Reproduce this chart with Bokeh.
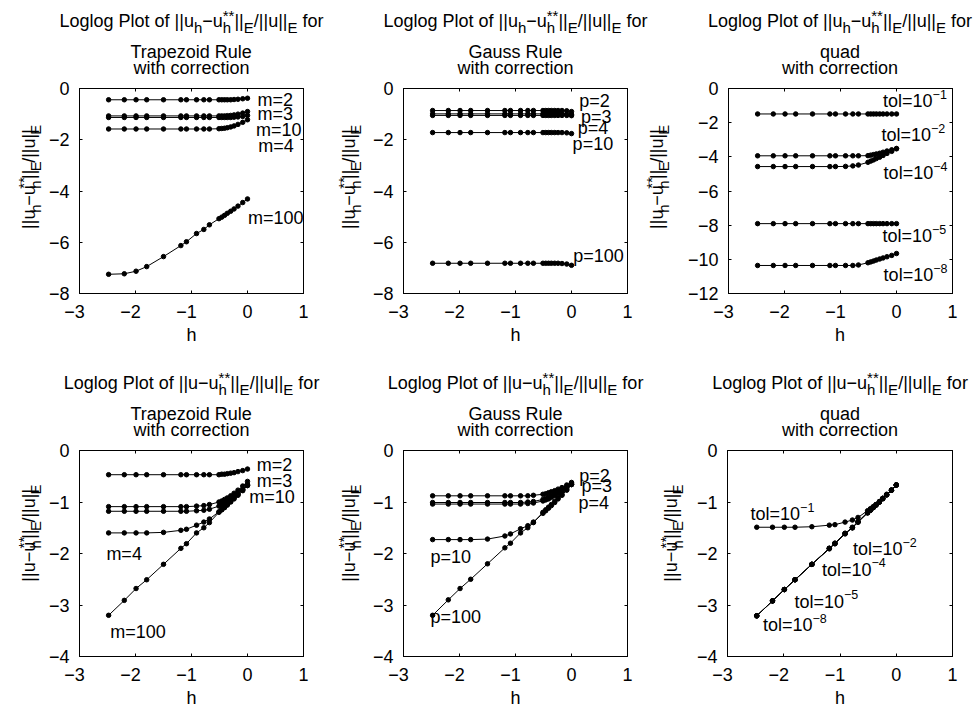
import math
from bokeh.plotting import figure
from bokeh.models import Range1d, FixedTicker, LinearAxis, CustomJSTickFormatter
from bokeh.layouts import column, row
from bokeh.core.properties import value
from bokeh.embed import file_html
from bokeh.resources import INLINE

# ---------------- data ----------------
log_h = [-2.48, -2.20, -1.99, -1.80, -1.50, -1.19, -1.09, -0.91, -0.78, -0.68,
         -0.51, -0.46, -0.41, -0.36, -0.30, -0.24, -0.17, -0.085, 0.0]

x_ticks = [-3, -2, -1, 0, 1]
y_ticks_top = [-8, -6, -4, -2, 0]
y_ticks_quad_top = [-12, -10, -8, -6, -4, -2, 0]
y_ticks_bottom = [-4, -3, -2, -1, 0]

# top row: ||u_h - u_h**||_E / ||u||_E
trap_top_m2 = [-0.44, -0.44, -0.44, -0.44, -0.44, -0.44, -0.44, -0.44, -0.44, -0.44,
               -0.44, -0.44, -0.44, -0.44, -0.44, -0.43, -0.42, -0.40, -0.38]
trap_top_m3 = [-1.07, -1.07, -1.07, -1.07, -1.07, -1.07, -1.07, -1.07, -1.07, -1.07,
               -1.07, -1.07, -1.07, -1.06, -1.05, -1.03, -1.00, -0.96, -0.90]
trap_top_m10 = [-1.13, -1.13, -1.13, -1.13, -1.13, -1.13, -1.13, -1.13, -1.13, -1.13,
                -1.13, -1.13, -1.13, -1.13, -1.13, -1.12, -1.11, -1.09, -1.05]
trap_top_m4 = [-1.58, -1.58, -1.58, -1.58, -1.58, -1.58, -1.58, -1.58, -1.58, -1.58,
               -1.57, -1.56, -1.55, -1.53, -1.50, -1.46, -1.40, -1.32, -1.22]
trap_top_m100 = [-7.25, -7.23, -7.13, -6.95, -6.56, -6.13, -5.98, -5.66, -5.50, -5.32,
                 -5.08, -5.02, -4.95, -4.87, -4.79, -4.70, -4.59, -4.45, -4.31]

gauss_top_p2 = [-0.86, -0.86, -0.86, -0.86, -0.86, -0.86, -0.86, -0.86, -0.86, -0.86,
                -0.86, -0.86, -0.86, -0.86, -0.86, -0.86, -0.86, -0.87, -0.90]
gauss_top_p3 = [-0.99, -0.99, -0.99, -0.99, -0.99, -0.99, -0.99, -0.99, -0.99, -0.99,
                -0.99, -0.99, -0.99, -0.99, -0.99, -0.99, -0.99, -1.00, -1.01]
gauss_top_p4 = [-1.05, -1.05, -1.05, -1.05, -1.05, -1.05, -1.05, -1.05, -1.05, -1.05,
                -1.05, -1.05, -1.05, -1.05, -1.05, -1.05, -1.05, -1.05, -1.06]
gauss_top_p10 = [-1.72, -1.72, -1.72, -1.72, -1.72, -1.72, -1.72, -1.72, -1.72, -1.72,
                 -1.72, -1.72, -1.72, -1.72, -1.72, -1.72, -1.72, -1.73, -1.76]
gauss_top_p100 = [-6.82, -6.82, -6.82, -6.82, -6.82, -6.82, -6.82, -6.82, -6.82, -6.82,
                  -6.82, -6.82, -6.82, -6.82, -6.82, -6.82, -6.83, -6.85, -6.90]

quad_top_t1 = [-1.49, -1.49, -1.49, -1.49, -1.49, -1.49, -1.49, -1.49, -1.49, -1.49,
               -1.49, -1.49, -1.49, -1.49, -1.49, -1.49, -1.49, -1.49, -1.49]
quad_top_t2 = [-3.94, -3.94, -3.94, -3.94, -3.94, -3.94, -3.94, -3.94, -3.94, -3.94,
               -3.93, -3.90, -3.87, -3.83, -3.79, -3.73, -3.66, -3.59, -3.51]
quad_top_t4 = [-4.57, -4.57, -4.57, -4.57, -4.57, -4.57, -4.57, -4.56, -4.53, -4.48,
               -4.32, -4.25, -4.18, -4.10, -4.02, -3.92, -3.80, -3.68, -3.53]
quad_top_t5 = [-7.91, -7.91, -7.91, -7.91, -7.91, -7.91, -7.91, -7.91, -7.91, -7.91,
               -7.91, -7.91, -7.91, -7.91, -7.91, -7.91, -7.91, -7.91, -7.91]
quad_top_t8 = [-10.36, -10.36, -10.36, -10.36, -10.36, -10.36, -10.36, -10.36, -10.36, -10.33,
               -10.20, -10.15, -10.10, -10.04, -9.98, -9.92, -9.85, -9.77, -9.66]

# bottom row: ||u - u_h**||_E / ||u||_E
trap_bot_m2 = [-0.47, -0.47, -0.47, -0.47, -0.47, -0.47, -0.47, -0.47, -0.47, -0.47,
               -0.47, -0.46, -0.46, -0.45, -0.44, -0.43, -0.41, -0.39, -0.36]
trap_bot_m3 = [-1.09, -1.09, -1.09, -1.09, -1.09, -1.09, -1.09, -1.08, -1.07, -1.05,
               -1.00, -0.98, -0.95, -0.92, -0.88, -0.83, -0.77, -0.69, -0.60]
trap_bot_m10 = [-1.18, -1.18, -1.18, -1.18, -1.18, -1.18, -1.18, -1.17, -1.16, -1.14,
                -1.08, -1.06, -1.03, -1.00, -0.96, -0.91, -0.84, -0.76, -0.66]
trap_bot_m4 = [-1.60, -1.60, -1.60, -1.60, -1.59, -1.55, -1.53, -1.45, -1.39, -1.33,
               -1.19, -1.15, -1.11, -1.06, -1.00, -0.94, -0.87, -0.78, -0.68]
trap_bot_m100 = [-3.20, -2.91, -2.68, -2.51, -2.21, -1.90, -1.81, -1.60, -1.50, -1.40,
                 -1.20, -1.15, -1.10, -1.05, -0.99, -0.92, -0.85, -0.76, -0.68]

gauss_bot_p2 = [-0.88, -0.88, -0.88, -0.88, -0.88, -0.88, -0.88, -0.88, -0.88, -0.87,
                -0.85, -0.84, -0.82, -0.80, -0.78, -0.75, -0.72, -0.67, -0.62]
gauss_bot_p3 = [-1.01, -1.01, -1.01, -1.01, -1.01, -1.01, -1.01, -1.01, -1.00, -0.99,
                -0.95, -0.93, -0.91, -0.88, -0.85, -0.81, -0.77, -0.71, -0.64]
gauss_bot_p4 = [-1.04, -1.04, -1.04, -1.04, -1.04, -1.04, -1.04, -1.04, -1.03, -1.02,
                -0.98, -0.96, -0.94, -0.91, -0.88, -0.84, -0.79, -0.73, -0.66]
gauss_bot_p10 = [-1.73, -1.73, -1.73, -1.73, -1.72, -1.66, -1.62, -1.52, -1.46, -1.39,
                 -1.22, -1.17, -1.12, -1.07, -1.01, -0.94, -0.87, -0.77, -0.66]
gauss_bot_p100 = [-3.20, -2.90, -2.68, -2.50, -2.20, -1.89, -1.80, -1.60, -1.50, -1.40,
                  -1.20, -1.15, -1.10, -1.05, -0.99, -0.92, -0.85, -0.76, -0.66]

quad_bot_t1 = [-1.49, -1.49, -1.49, -1.49, -1.48, -1.45, -1.44, -1.39, -1.35, -1.30,
               -1.17, -1.13, -1.09, -1.05, -1.00, -0.93, -0.86, -0.77, -0.67]
quad_bot_t2 = [-3.21, -2.92, -2.70, -2.51, -2.21, -1.90, -1.80, -1.61, -1.49, -1.38,
               -1.20, -1.15, -1.10, -1.05, -0.99, -0.93, -0.85, -0.77, -0.67]
quad_bot_t4 = [-3.21, -2.92, -2.70, -2.51, -2.21, -1.90, -1.80, -1.61, -1.50, -1.39,
               -1.21, -1.16, -1.11, -1.06, -1.00, -0.93, -0.86, -0.77, -0.67]
quad_bot_t5 = [-3.21, -2.92, -2.70, -2.51, -2.21, -1.90, -1.81, -1.61, -1.50, -1.39,
               -1.21, -1.16, -1.11, -1.06, -1.00, -0.93, -0.86, -0.77, -0.67]
quad_bot_t8 = [-3.21, -2.92, -2.70, -2.51, -2.21, -1.91, -1.81, -1.62, -1.50, -1.39,
               -1.21, -1.16, -1.11, -1.06, -1.00, -0.94, -0.86, -0.77, -0.67]

method_names = ["Trapezoid Rule", "Gauss Rule", "quad"]
x_label = "h"

# ---------------- styling ----------------
FONT = "Liberation Sans"
FS = 18.0      # main text size (px)
SS = 15.0      # script size in titles / axis labels (px)
LSS = 12.5     # script size in the in-plot labels (px)
SUB = 5.0      # subscript drop (px)
SUP = 7.0      # superscript raise (px)
MID = 0.35     # distance baseline -> "middle" anchor, in em

AW = {' ': 278, '|': 260, '/': 278, '*': 389, '=': 584, '\u2212': 584, '-': 333,
      'L': 556, 'P': 667, 'T': 611, 'R': 722, 'G': 778, 'E': 667,
      'a': 556, 'c': 500, 'd': 556, 'e': 556, 'f': 278, 'g': 556, 'h': 556, 'i': 222,
      'l': 222, 'n': 556, 'o': 556, 'p': 556, 'q': 556, 'r': 333, 's': 500, 't': 278,
      'u': 556, 'w': 722, 'z': 500}


def tw(s, size):
    return sum(AW.get(c, 556) for c in s) * size / 1000.0


def rich(s, segs, x, y, rotate=False):
    """Composed text (with sub/superscripts) drawn as text glyphs; (x, y) = centre of baseline."""
    widths = []
    for seg in segs:
        if seg[0] == "n":
            widths.append(tw(seg[1], FS))
        else:
            widths.append(max(tw(seg[1] or "", SS), tw(seg[2] or "", SS)))
    pos = -sum(widths) / 2.0
    groups = {}
    for seg, w in zip(segs, widths):
        pieces = []
        if seg[0] == "n":
            txt = seg[1]
            lead = len(txt) - len(txt.lstrip(" "))
            pieces.append((txt.strip(" "), FS, 0.0, tw(" " * lead, FS)))
        else:
            if seg[1]:
                pieces.append((seg[1], SS, -SUB, 0.0))
            if seg[2]:
                pieces.append((seg[2], SS, SUP, 0.0))
        for txt, size, shift, adv in pieces:
            up = shift + MID * size
            if rotate:
                gx, gy = x - up, y + pos + adv
            else:
                gx, gy = x + pos + adv, y + up
            g = groups.setdefault(size, ([], [], []))
            g[0].append(gx)
            g[1].append(gy)
            g[2].append(txt)
        pos += w
    for size, (xs, ys, ts) in groups.items():
        s.text(x=xs, y=ys, text=ts, angle=(math.pi / 2 if rotate else 0.0),
               text_font=value(FONT), text_font_size=value(f"{size:g}px"),
               text_align="left", text_baseline="middle", text_color="black")


def strip(width, height):
    s = figure(width=width, height=height, x_range=Range1d(0, width), y_range=Range1d(0, height),
               output_backend="svg", toolbar_location=None, min_border=0,
               x_axis_type=None, y_axis_type=None)
    s.grid.visible = False
    s.outline_line_color = None
    s.background_fill_color = "white"
    s.border_fill_color = "white"
    return s


M = "\u2212"
ylab_top = [("n", "||u"), ("s", "h", None), ("n", M + "u"), ("s", "h", "**"),
            ("n", "||"), ("s", "E", None), ("n", "/||u||"), ("s", "E", None)]
ylab_bot = [("n", "||u" + M + "u"), ("s", "h", "**"),
            ("n", "||"), ("s", "E", None), ("n", "/||u||"), ("s", "E", None)]
title_top = [("n", "Loglog Plot of ")] + ylab_top + [("n", " for")]
title_bot = [("n", "Loglog Plot of ")] + ylab_bot + [("n", " for")]

# page geometry (px)
PAGE_W = 977
FRAME_LEFT = [79, 403, 727]
FRAME_W = [224, 224, 225]
COL_LEFT = [0, 332, 642, 977]            # plot column blocks (y-label strip + plot)
TITLE_LEFT = [0, 353, 675, 977]          # title strips
YSTRIP_W = [[44, 36, 42], [44, 36, 48]]
YLAB_X = [[35, 23, 21], [35, 23, 35]]    # baseline of the rotated y-label inside its strip
TITLE_H = [78, 90]
FRAME_H = [207, 208]
PLOT_TOP = 10
PLOT_BOTTOM = 29
XLAB_H = [26, 23]                        # strip holding the "h" label
XLAB_BASE = [9, 6]                       # its baseline, from the strip bottom
YLAB_CY = [139, 147]                     # centre of the y label inside its strip (from bottom)


def make_panel(col, rw, method, ymin, yticks, series, labels):
    fw = FRAME_W[col]
    yw = YSTRIP_W[rw][col]
    pw = COL_LEFT[col + 1] - COL_LEFT[col] - yw
    lb = FRAME_LEFT[col] - COL_LEFT[col] - yw
    rb = pw - lb - fw
    ph = PLOT_TOP + FRAME_H[rw] + PLOT_BOTTOM

    p = figure(width=pw, height=ph, x_range=Range1d(-3, 1), y_range=Range1d(ymin, 0),
               output_backend="svg", toolbar_location=None,
               min_border_left=lb, min_border_right=rb, min_border_top=PLOT_TOP,
               min_border_bottom=PLOT_BOTTOM)
    p.xgrid.visible = False
    p.ygrid.visible = False
    p.outline_line_color = "black"
    p.outline_line_width = 1
    p.outline_line_alpha = 1.0
    p.background_fill_color = "white"
    p.border_fill_color = "white"

    # MATLAB centres the digits and lets the minus sign hang to the left
    xfmt = CustomJSTickFormatter(
        code="return tick < 0 ? '\u2212' + Math.abs(tick) + '\u00a0\u00a0' : tick.toString();")
    yfmt = CustomJSTickFormatter(code="return (tick < 0 ? '\u2212' : '') + Math.abs(tick);")
    blank = CustomJSTickFormatter(code="return '';")
    for ax, tk, fmt, kind in [(p.xaxis[0], x_ticks, xfmt, "x"), (p.yaxis[0], yticks, yfmt, "y")]:
        ax.ticker = FixedTicker(ticks=tk)
        ax.formatter = fmt
        ax.major_tick_in = 3
        ax.major_tick_out = 0
        ax.minor_tick_in = 0
        ax.minor_tick_out = 0
        ax.axis_line_color = "black"
        ax.major_tick_line_color = "black"
        ax.major_label_text_font = FONT
        ax.major_label_text_font_size = f"{FS:g}px"
        ax.major_label_text_color = "black"
        ax.major_label_standoff = 8 if kind == "x" else 10
    for loc, tk in [("above", x_ticks), ("right", yticks)]:
        ax = LinearAxis(ticker=FixedTicker(ticks=tk), formatter=blank,
                        major_tick_in=3, major_tick_out=0, minor_tick_in=0, minor_tick_out=0,
                        major_label_text_font_size="1px", major_label_standoff=0,
                        axis_line_color="black", major_tick_line_color="black")
        p.add_layout(ax, loc)

    for vals in series:
        p.line(x=log_h, y=vals, line_color="black", line_width=1)
        p.scatter(x=log_h, y=vals, size=4.5, fill_color="black", line_color="black")

    for (main, sup, lx, ly) in labels:
        p.text(x=[lx], y=[ly], text=[main], text_font=value(FONT),
               text_font_size=value(f"{FS:g}px"), text_align="left", text_baseline="middle",
               text_color="black")
        if sup:
            p.text(x=[lx], y=[ly], text=[sup], text_font=value(FONT),
                   text_font_size=value(f"{LSS:g}px"), text_align="left", text_baseline="middle",
                   text_color="black", x_offset=tw(main, FS), y_offset=-SUP)

    # title strip (three lines, baselines 61 / 30 / 14 px above the frame top)
    tl = TITLE_LEFT[col]
    t = strip(TITLE_LEFT[col + 1] - tl, TITLE_H[rw])
    cx = FRAME_LEFT[col] + fw / 2.0 - tl
    rich(t, title_top if rw == 0 else title_bot, cx, 51)
    rich(t, [("n", method)], cx, 20)
    rich(t, [("n", "with correction")], cx, 4)

    # y-label strip
    ys = strip(yw, ph)
    rich(ys, ylab_top if rw == 0 else ylab_bot, YLAB_X[rw][col], YLAB_CY[rw], rotate=True)

    return t, ys, p


T = "tol=10"
panels = [
    make_panel(0, 0, method_names[0], -8, y_ticks_top,
               [trap_top_m2, trap_top_m3, trap_top_m10, trap_top_m4, trap_top_m100],
               [("m=2", None, 0.18, -0.44), ("m=3", None, 0.18, -0.99),
                ("m=10", None, 0.15, -1.60), ("m=4", None, 0.19, -2.24),
                ("m=100", None, 0.01, -5.04)]),
    make_panel(1, 0, method_names[1], -8, y_ticks_top,
               [gauss_top_p2, gauss_top_p3, gauss_top_p4, gauss_top_p10, gauss_top_p100],
               [("p=2", None, 0.14, -0.48), ("p=3", None, 0.17, -1.12),
                ("p=4", None, 0.11, -1.54), ("p=10", None, 0.02, -2.15),
                ("p=100", None, 0.03, -6.52)]),
    make_panel(2, 0, method_names[2], -12, y_ticks_quad_top,
               [quad_top_t1, quad_top_t2, quad_top_t4, quad_top_t5, quad_top_t8],
               [(T, M + "1", -0.24, -0.75), (T, M + "2", -0.27, -2.74),
                (T, M + "4", -0.23, -4.96), (T, M + "5", -0.25, -8.66),
                (T, M + "8", -0.23, -10.94)]),
    make_panel(0, 1, method_names[0], -4, y_ticks_bottom,
               [trap_bot_m2, trap_bot_m3, trap_bot_m10, trap_bot_m4, trap_bot_m100],
               [("m=2", None, 0.165, -0.29), ("m=3", None, 0.165, -0.60),
                ("m=10", None, 0.03, -0.90), ("m=4", None, -2.52, -2.00),
                ("m=100", None, -2.45, -3.52)]),
    make_panel(1, 1, method_names[1], -4, y_ticks_bottom,
               [gauss_bot_p2, gauss_bot_p3, gauss_bot_p4, gauss_bot_p10, gauss_bot_p100],
               [("p=2", None, 0.14, -0.50), ("p=3", None, 0.18, -0.69),
                ("p=4", None, 0.125, -1.01), ("p=10", None, -2.52, -2.07),
                ("p=100", None, -2.52, -3.24)]),
    make_panel(2, 1, method_names[2], -4, y_ticks_bottom,
               [quad_bot_t1, quad_bot_t2, quad_bot_t4, quad_bot_t5, quad_bot_t8],
               [(T, M + "1", -2.59, -1.24), (T, M + "2", -0.77, -1.92),
                (T, M + "4", -1.32, -2.32), (T, M + "5", -1.81, -2.94),
                (T, M + "8", -2.37, -3.39)]),
]


def band(three, rw):
    titles = row(*[t for t, _, _ in three])
    plots = row(*[w for _, ys, p in three for w in (ys, p)])
    xl = strip(PAGE_W, XLAB_H[rw])
    for c in range(3):
        rich(xl, [("n", x_label)], FRAME_LEFT[c] + FRAME_W[c] / 2.0, XLAB_BASE[rw])
    return column(titles, plots, xl)


layout = column(band(panels[:3], 0), band(panels[3:], 1))
open("out.html", "w", encoding="utf-8").write(file_html(layout, INLINE))
